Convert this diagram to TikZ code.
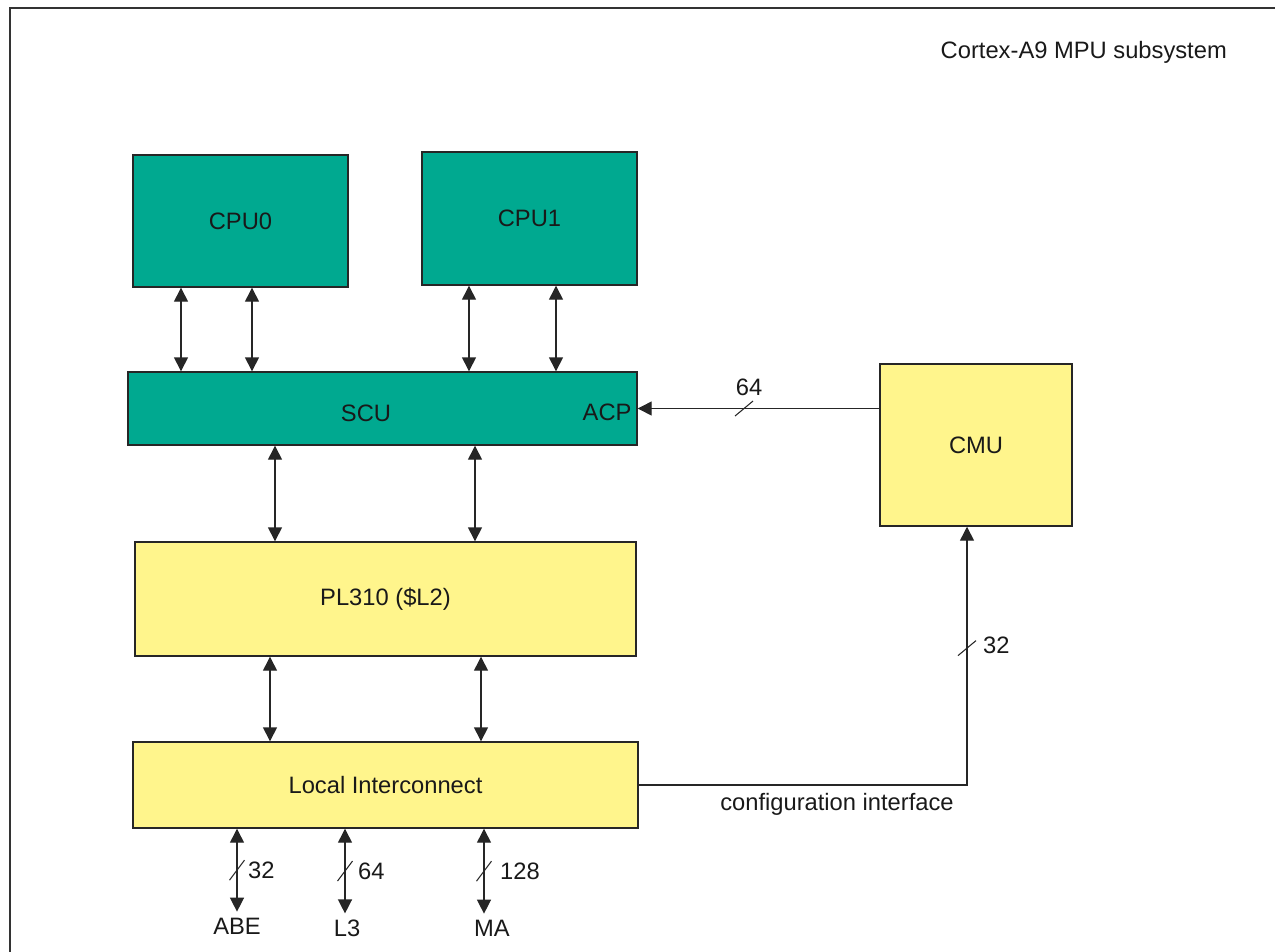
\documentclass[tikz,border=0pt]{standalone}
\usepackage{fontspec}
\setmainfont{Liberation Sans}
\usetikzlibrary{arrows.meta, positioning, calc}
\definecolor{mputeal}{RGB}{0,169,144}
\definecolor{mpuyellow}{RGB}{255,245,140}
\tikzset{
  blk/.style={rectangle, draw=black!85, line width=0.8pt, align=center,
              text=black!90, font=\fontsize{13.5}{16}\selectfont},
  core/.style={blk, fill=mputeal},
  mem/.style={blk, fill=mpuyellow},
  lbl/.style={text=black!90, font=\fontsize{13.5}{16}\selectfont},
  arr/.style={-{Triangle[length=0.28cm, width=0.28cm]}, line width=0.8pt, draw=black!85},
  biarr/.style={{Triangle[length=0.28cm, width=0.28cm]}-{Triangle[length=0.28cm, width=0.28cm]},
                line width=0.8pt, draw=black!85},
  tick/.style={line width=0.6pt, draw=black!85},
}

\begin{document}
\begin{tikzpicture}
  \useasboundingbox (0,0) rectangle (25.5,-19.02);
  \draw[line width=0.8pt, black!80] (0.2,-19.2) -- (0.2,-0.16) -- (25.7,-0.16);
  \node[lbl, anchor=east] (title) at (24.66,-1.04) {Cortex-A9 MPU subsystem};

  \node[core, minimum width=4.30cm, minimum height=2.64cm] (cpu0) at (4.81,-4.42) {CPU0};
  \node[core, minimum width=4.30cm, minimum height=2.66cm] (cpu1) at (10.59,-4.37) {CPU1};
  \node[core, minimum width=10.18cm, minimum height=1.46cm,
        label={[lbl, xshift=-0.33cm, yshift=-0.09cm]center:SCU},
        label={[lbl, anchor=east, yshift=-0.07cm]east:ACP}] (scu) at (7.65,-8.17) {};
  \node[mem, minimum width=3.84cm, minimum height=3.24cm] (cmu) at (19.52,-8.90) {CMU};
  \node[mem, minimum width=10.02cm, minimum height=2.28cm] (l2) at (7.71,-11.98) {PL310 (\$L2)};
  \node[mem, minimum width=10.10cm, minimum height=1.72cm] (li) at (7.71,-15.70) {Local Interconnect};

  \node[lbl] (abe) at (4.74,-18.52) {ABE};
  \node[lbl] (l3)  at (6.94,-18.56) {L3};
  \node[lbl] (ma)  at (9.84,-18.56) {MA};
  \node[lbl] (cfg) at (16.74,-16.08) {configuration interface};

  \foreach \x in {3.62,5.04} \draw[biarr] (cpu0.south -| \x,0) -- (scu.north -| \x,0);
  \foreach \x in {9.38,11.12} \draw[biarr] (cpu1.south -| \x,0) -- (scu.north -| \x,0);
  \foreach \x in {5.50,9.50} \draw[biarr] (scu.south -| \x,0) -- (l2.north -| \x,0);
  \foreach \x in {5.40,9.62} \draw[biarr] (l2.south -| \x,0) -- (li.north -| \x,0);

  \draw[biarr] (li.south -| 4.74,0) -- coordinate (babe) (abe.north -| 4.74,0);
  \draw[biarr] (li.south -| 6.90,0) -- coordinate (bl3) (l3.north -| 6.90,0);
  \draw[biarr] (li.south -| 9.68,0) -- coordinate (bma) (ma.north -| 9.68,0);

  \draw[arr] (cmu.west |- scu.east) -- coordinate[pos=.56] (bacp) (scu.east);
  \coordinate (cfgin) at ([xshift=-0.18cm]cmu.south);
  \draw[arr] (li.east) -- (li.east -| cfgin) -- coordinate[pos=.53] (bcfg) (cfgin);

  \foreach \b in {babe,bl3,bma} \draw[tick] (\b) +(-0.15,-0.2) -- +(0.15,0.2);
  \foreach \b in {bacp,bcfg} \draw[tick] (\b) +(-0.18,-0.15) -- +(0.18,0.15);

  \node[lbl, anchor=west] (w32) at ([xshift=0.1cm]babe) {32};
  \node[lbl, anchor=west] (w64) at ([xshift=0.14cm]bl3) {64};
  \node[lbl, anchor=west] (w128) at ([xshift=0.2cm]bma) {128};
  \node[lbl, anchor=south] (wacp) at ([xshift=0.1cm, yshift=0.14cm]bacp) {64};
  \node[lbl, anchor=west] (wcfg) at ([xshift=0.2cm, yshift=0.06cm]bcfg) {32};
\end{tikzpicture}
\end{document}
